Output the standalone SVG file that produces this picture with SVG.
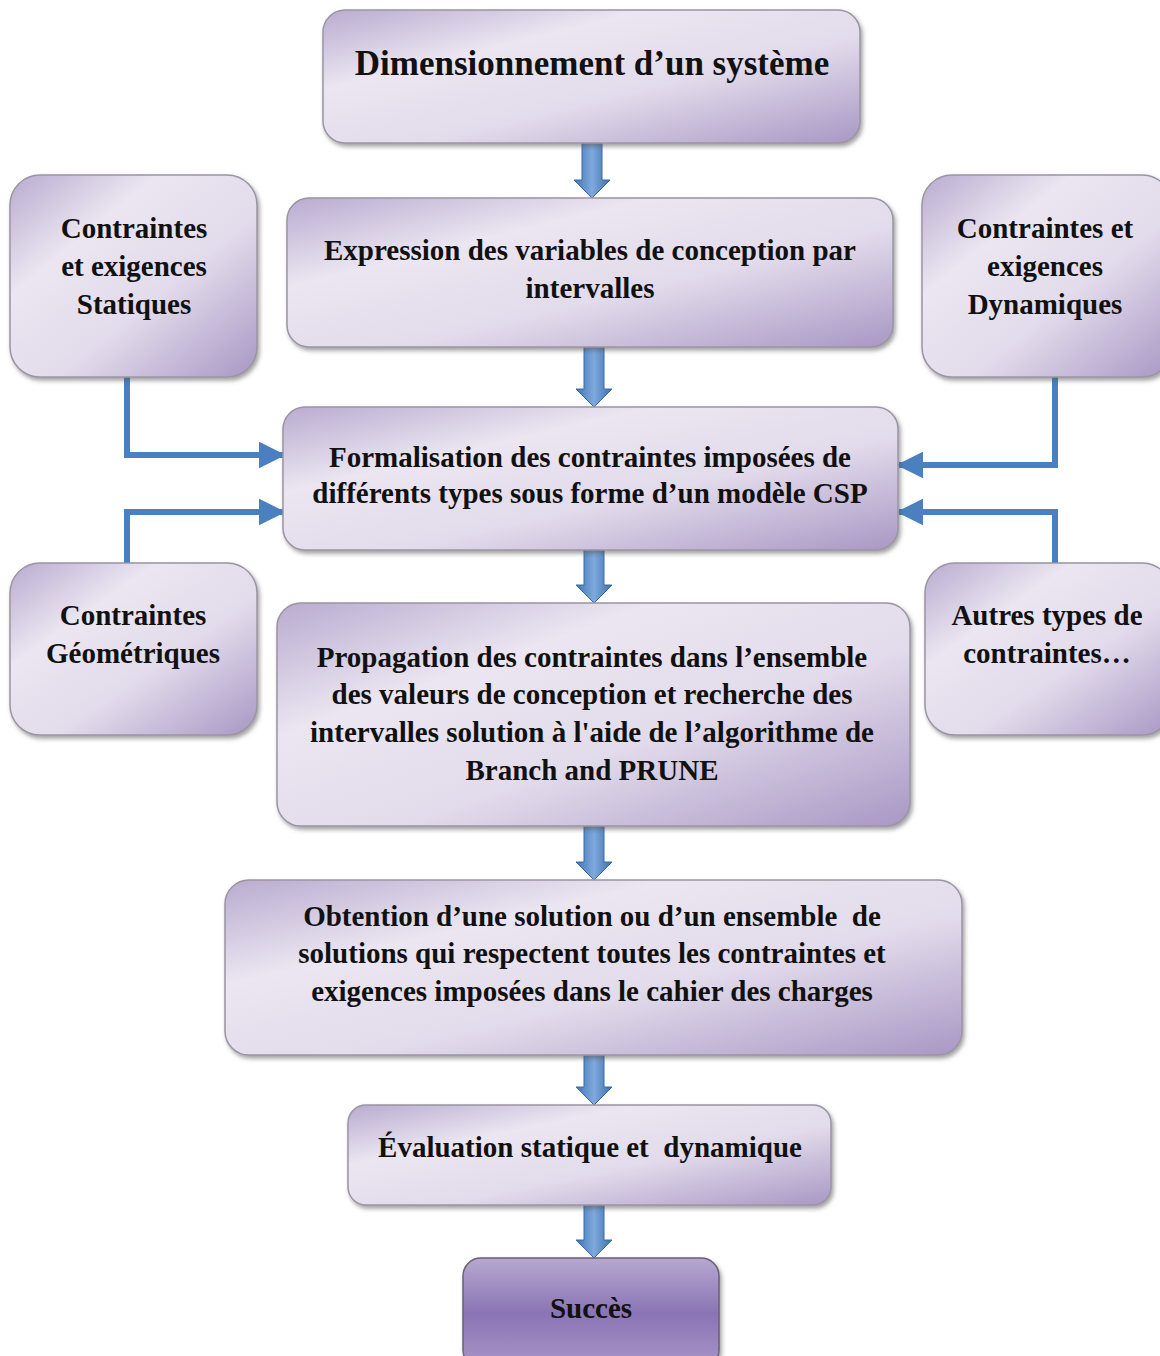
<svg xmlns="http://www.w3.org/2000/svg" width="1160" height="1356" viewBox="0 0 1160 1356">
<defs>
<linearGradient id="box" x1="0" y1="0" x2="1" y2="1">
<stop offset="0" stop-color="#b9abd0"/>
<stop offset="0.3" stop-color="#ebe6f1"/>
<stop offset="0.6" stop-color="#e2dbeb"/>
<stop offset="1" stop-color="#a897c4"/>
</linearGradient>
<linearGradient id="dark" x1="0" y1="0" x2="0" y2="1">
<stop offset="0" stop-color="#b7a8d0"/>
<stop offset="0.5" stop-color="#8a74b4"/>
<stop offset="1" stop-color="#a996c8"/>
</linearGradient>
<linearGradient id="arr" x1="0" y1="0" x2="1" y2="0">
<stop offset="0" stop-color="#3f74b6"/>
<stop offset="0.5" stop-color="#7fa9dc"/>
<stop offset="1" stop-color="#3d6fae"/>
</linearGradient>
<filter id="sh" x="-5%" y="-5%" width="110%" height="115%">
<feDropShadow dx="2" dy="3" stdDeviation="2" flood-color="#555" flood-opacity="0.55"/>
</filter>
<marker id="ah" viewBox="0 0 10 10" refX="9" refY="5" markerWidth="4.5" markerHeight="4.5" orient="auto" markerUnits="strokeWidth">
<path d="M0,0 L10,5 L0,10 z" fill="#4a7fc0"/>
</marker>
</defs>
<style>
.b{fill:url(#box);stroke:#9a95a3;stroke-width:1.5;filter:url(#sh)}
.d{fill:url(#dark);stroke:#6a6078;stroke-width:1.5;filter:url(#sh)}
.t{font-family:"Liberation Serif",serif;font-weight:bold;font-size:29px;fill:#111;text-anchor:middle}
.big{font-size:35px}
.c{fill:none;stroke:#4a7fc0;stroke-width:6}
.ba{fill:url(#arr);stroke:#3a6aa6;stroke-width:1}
</style>
<rect width="1160" height="1356" fill="#fff"/>
<g id="connectors">
<path class="ba" d="M582,143 h20 v37 h8 l-18,18 l-18,-18 h8 z"/>
<path class="ba" d="M584,347 h20 v42 h8 l-18,18 l-18,-18 h8 z"/>
<path class="ba" d="M584,550 h20 v35 h8 l-18,18 l-18,-18 h8 z"/>
<path class="ba" d="M584,826 h20 v36 h8 l-18,18 l-18,-18 h8 z"/>
<path class="ba" d="M584,1055 h20 v32 h8 l-18,18 l-18,-18 h8 z"/>
<path class="ba" d="M584,1205 h20 v35 h8 l-18,18 l-18,-18 h8 z"/>
<path class="c" d="M127,377 V455 H283" marker-end="url(#ah)"/>
<path class="c" d="M127,563 V512 H283" marker-end="url(#ah)"/>
<path class="c" d="M1055,377 V465 H899" marker-end="url(#ah)"/>
<path class="c" d="M1055,563 V512 H899" marker-end="url(#ah)"/>
</g>
<g id="n-dim">
<rect class="b" x="323" y="10" width="537" height="133" rx="22"/>
<text class="t big" x="592" y="75">Dimensionnement d’un système</text>
</g>
<g id="n-expr">
<rect class="b" x="287" y="198" width="606" height="149" rx="22"/>
<text class="t" x="590" y="260">Expression des variables de conception par</text>
<text class="t" x="590" y="298">intervalles</text>
</g>
<g id="n-stat">
<rect class="b" x="10" y="175" width="247" height="202" rx="30"/>
<text class="t" x="134" y="238">Contraintes</text>
<text class="t" x="134" y="276">et exigences</text>
<text class="t" x="134" y="314">Statiques</text>
</g>
<g id="n-dyn">
<rect class="b" x="922" y="175" width="250" height="202" rx="30"/>
<text class="t" x="1045" y="238">Contraintes et</text>
<text class="t" x="1045" y="276">exigences</text>
<text class="t" x="1045" y="314">Dynamiques</text>
</g>
<g id="n-form">
<rect class="b" x="283" y="407" width="615" height="143" rx="22"/>
<text class="t" x="590" y="467">Formalisation des contraintes imposées de</text>
<text class="t" x="590" y="503">différents types sous forme d’un modèle CSP</text>
</g>
<g id="n-geo">
<rect class="b" x="10" y="563" width="247" height="172" rx="30"/>
<text class="t" x="133" y="625">Contraintes</text>
<text class="t" x="133" y="663">Géométriques</text>
</g>
<g id="n-autres">
<rect class="b" x="925" y="563" width="247" height="172" rx="30"/>
<text class="t" x="1047" y="625">Autres types de</text>
<text class="t" x="1047" y="663">contraintes…</text>
</g>
<g id="n-prop">
<rect class="b" x="277" y="603" width="633" height="223" rx="24"/>
<text class="t" x="592" y="667">Propagation des contraintes dans l’ensemble</text>
<text class="t" x="592" y="704">des valeurs de conception et recherche des</text>
<text class="t" x="592" y="742">intervalles solution à l'aide de l’algorithme de</text>
<text class="t" x="592" y="780">Branch and PRUNE</text>
</g>
<g id="n-obt">
<rect class="b" x="225" y="880" width="737" height="175" rx="24"/>
<text class="t" x="592" y="926" xml:space="preserve">Obtention d’une solution ou d’un ensemble  de</text>
<text class="t" x="592" y="963">solutions qui respectent toutes les contraintes et</text>
<text class="t" x="592" y="1001">exigences imposées dans le cahier des charges</text>
</g>
<g id="n-eval">
<rect class="b" x="348" y="1105" width="483" height="100" rx="18"/>
<text class="t" x="590" y="1157" xml:space="preserve">Évaluation statique et  dynamique</text>
</g>
<g id="n-succes">
<rect class="d" x="463" y="1258" width="256" height="110" rx="18"/>
<text class="t" x="591" y="1318">Succès</text>
</g>
</svg>
